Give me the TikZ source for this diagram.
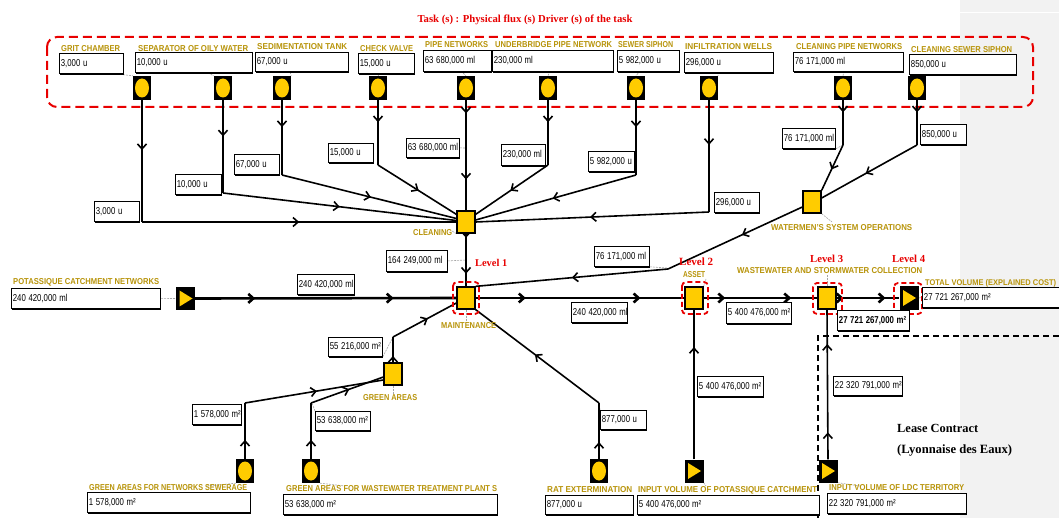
\documentclass[tikz,border=0pt]{standalone}
\usepackage{fontspec}
\setmainfont{Liberation Serif}
\setsansfont{Liberation Sans}
\usepackage{graphicx}
\usetikzlibrary{arrows.meta,decorations.markings,shadows,calc}
\definecolor{ycol}{RGB}{255,204,0}
\definecolor{gold}{RGB}{184,148,10}
\definecolor{tred}{RGB}{232,0,0}
\definecolor{bandgray}{RGB}{242,242,242}
\pgfdeclarelayer{bg}\pgfdeclarelayer{edges}\pgfsetlayers{bg,edges,main}
\tikzset{
 circicon/.style={fill=black, minimum width=18pt, minimum height=24pt, inner sep=0pt,
   path picture={\fill[ycol] (path picture bounding box.center) ellipse (7pt and 9.5pt);}},
 triicon/.style={fill=black, minimum width=19pt, minimum height=23pt, inner sep=0pt,
   path picture={\fill[ycol] ([shift={(-6pt,8pt)}]path picture bounding box.center) -- ([shift={(-6pt,-8pt)}]path picture bounding box.center) -- ([shift={(7pt,0pt)}]path picture bounding box.center) -- cycle;}},
 act/.style={fill=ycol, draw=black, line width=1.3pt, minimum width=18pt, minimum height=22pt, inner sep=0pt},
 vbox/.style={draw=black, line width=0.8pt, fill=white, inner sep=1.5pt, align=left, anchor=north west,
   font=\sffamily\fontsize{10}{11}\selectfont, general shadow={fill=black, shadow xshift=0.8pt, shadow yshift=-1.6pt}},
 glab/.style={inner sep=0pt, text=gold, font=\sffamily\bfseries, anchor=west},
 flow/.style={draw=black, line width=1.6pt},
 mainflow/.style={draw=black, line width=2.6pt},
 ma/.style={postaction={decorate}, decoration={markings, mark=at position #1 with {\arrow{Straight Barb[length=5pt,width=9pt]}}}},
 mb/.style 2 args={postaction={decorate}, decoration={markings, mark=at position #1 with {\arrow{Straight Barb[length=5pt,width=9pt]}}, mark=at position #2 with {\arrow{Straight Barb[length=5pt,width=9pt]}}}},
 lvl/.style={inner sep=0pt, text=tred, font=\bfseries, anchor=west},
 reddash/.style={draw=tred, line width=1.8pt, dash pattern=on 5pt off 3pt, rounded corners=4pt},
 leader/.style={draw=black!35, line width=0.6pt, dash pattern=on 2pt off 1pt},
}
\newcommand\vb[6]{\pgfmathsetmacro\vbw{#4-#2-3}\pgfmathsetmacro\vbh{#5-#3}%
  \node[vbox, text width=\vbw pt, minimum height=\vbh pt] (#1) at (#2,#3) {\scalebox{0.78}[1]{#6}};}
\newcommand\gl[5]{\pgfmathsetmacro\glw{#3-#2}%
  \node[glab] (#1) at (#2,#4) {\resizebox{\glw pt}{6pt}{#5}};}
\begin{document}
\begin{tikzpicture}[x=1pt,y=-1pt]
\useasboundingbox (0,0) rectangle (1059,518);
\begin{pgfonlayer}{bg}
\fill[white] (0,0) rectangle (1059,518);
\fill[bandgray] (960,0) rectangle (1059,518);
\draw[white, line width=1pt] (960,13) -- (1059,13);
\draw[tred, line width=2pt, dash pattern=on 9pt off 5pt, rounded corners=10pt] (47,37) rectangle (1033,107);
\draw[black, line width=1.5pt, dash pattern=on 6pt off 4pt] (1059,336) -- (818,336) -- (818,518);
\end{pgfonlayer}

% title
\node[inner sep=0pt, text=tred, font=\bfseries] (title) at (525,20) {\resizebox{215pt}{!}{Task (s) : Physical flux (s) Driver (s) of the task}};

% top labels
\gl{tGrit}{61}{120}{49}{GRIT CHAMBER}
\gl{tSep}{138}{248}{49}{SEPARATOR OF OILY WATER}
\gl{tSed}{257}{347}{47}{SEDIMENTATION TANK}
\gl{tChk}{360}{413}{49}{CHECK VALVE}
\gl{tPipe}{425}{488}{45}{PIPE NETWORKS}
\gl{tUnd}{495}{612}{45}{UNDERBRIDGE PIPE NETWORK}
\gl{tSew}{618}{673}{45}{SEWER SIPHON}
\gl{tInf}{685}{772}{47}{INFILTRATION WELLS}
\gl{tClp}{796}{902}{47}{CLEANING PIPE NETWORKS}
\gl{tCls}{911}{1012}{50}{CLEANING SEWER SIPHON}

% top value boxes
\vb{bGrit}{59}{53}{123}{73}{3,000 u}
\vb{bSep}{135}{52}{252}{72}{10,000 u}
\vb{bSed}{255}{52}{348}{71}{67,000 u}
\vb{bChk}{358}{53}{414}{73}{15,000 u}
\vb{bPipe}{423}{50}{491}{71}{63 680,000 ml}
\vb{bUnd}{492}{50}{613}{71}{230,000 ml}
\vb{bSew}{617}{50}{679}{71}{5 982,000 u}
\vb{bInf}{684}{52}{773}{72}{296,000 u}
\vb{bClp}{793}{52}{903}{71}{76 171,000 ml}
\vb{bCls}{909}{54}{1016}{74}{850,000 u}

% top icons
\node[circicon] (iGrit) at (142,88) {};
\node[circicon] (iSep) at (223,88) {};
\node[circicon] (iSed) at (282,88) {};
\node[circicon] (iChk) at (378,88) {};
\node[circicon] (iPipe) at (466,88) {};
\node[circicon] (iUnd) at (548,88) {};
\node[circicon] (iSew) at (636,88) {};
\node[circicon] (iInf) at (709,88) {};
\node[circicon] (iClp) at (843,88) {};
\node[circicon] (iCls) at (917,88) {};

% activities
\node[act] (cl) at (466,222) {};
\node[act] (mt) at (466,298) {};
\node[act] (ga) at (393,374) {};
\node[act] (as) at (694,298) {};
\node[act] (ww) at (827,298) {};
\node[act] (wm) at (812,202) {};
\draw[reddash] (453,282) rectangle (479,314);
\draw[reddash] (682,282) rectangle (708,314);
\draw[reddash] (813,283) rectangle (842,314);
\draw[reddash] (894,283) rectangle (922,314);

\gl{lCl}{413}{452}{233}{CLEANING}
\gl{lMt}{441}{496}{326}{MAINTENANCE}
\gl{lGa}{363}{417}{398}{GREEN AREAS}
\gl{lAs}{683}{705}{275}{ASSET}
\gl{lWw}{737}{922}{271}{WASTEWATER AND STORMWATER COLLECTION}
\gl{lWm}{771}{912}{228}{WATERMEN'S SYSTEM OPERATIONS}

% levels
\node[lvl] (lv1) at (475,263) {\resizebox{32pt}{!}{Level 1}};
\node[lvl] (lv2) at (679,262) {\resizebox{34pt}{!}{Level 2}};
\node[lvl] (lv3) at (810,259) {\resizebox{33pt}{!}{Level 3}};
\node[lvl] (lv4) at (892,259) {\resizebox{33pt}{!}{Level 4}};

% source and sink
\gl{lSrc}{13}{159}{282}{POTASSIQUE CATCHMENT NETWORKS}
\vb{bSrc}{11}{288}{160}{308}{240 420,000 ml}
\node[triicon] (src) at (185.5,298.5) {};
\node[triicon] (tot) at (909,298) {};
\gl{lTot}{925}{1056}{283}{TOTAL VOLUME (EXPLAINED COST)}
\vb{bTot}{922}{287}{1075}{307}{27 721 267,000 m²}

% bottom icons, labels, boxes
\node[circicon] (iGan) at (245,471) {};
\node[circicon] (iGaw) at (311,471) {};
\node[circicon] (iRat) at (599,471) {};
\node[triicon] (iIp) at (694,471) {};
\node[triicon] (iIl) at (828,471) {};
\gl{lGan}{89}{247}{488}{GREEN AREAS FOR NETWORKS SEWERAGE}
\gl{lGaw}{286}{497}{489}{GREEN AREAS FOR WASTEWATER TREATMENT PLANT S}
\gl{lRat}{547}{632}{490}{RAT EXTERMINATION}
\gl{lIp}{638}{817}{490}{INPUT VOLUME OF POTASSIQUE CATCHMENT}
\gl{lIl}{829}{964}{488}{INPUT VOLUME OF LDC TERRITORY}
\vb{bGan}{87}{492}{250}{512}{1 578,000 m²}
\vb{bGaw}{283}{494}{497}{514}{53 638,000 m²}
\vb{bRat}{545}{495}{633}{514}{877,000 u}
\vb{bIp}{637}{495}{819}{514}{5 400 476,000 m²}
\vb{bIl}{827}{493}{966}{513}{22 320 791,000 m²}

% flow value boxes
\vb{fGrit}{94}{201}{139}{221}{3,000 u}
\vb{fSep}{175}{174}{221}{194}{10,000 u}
\vb{fSed}{234}{154}{279}{174}{67,000 u}
\vb{fChk}{328}{143}{373}{162}{15,000 u}
\vb{fPipe}{406}{138}{459}{157}{63 680,000 ml}
\vb{fUnd}{501}{144}{545}{165}{230,000 ml}
\vb{fSew}{588}{151}{634}{171}{5 982,000 u}
\vb{fInf}{714}{192}{759}{212}{296,000 u}
\vb{fClp}{782}{128}{835}{148}{76 171,000 ml}
\vb{fCls}{920}{124}{966}{144}{850,000 u}
\vb{fCl}{386}{250}{447}{271}{164 249,000 ml}
\vb{fWm}{594}{246}{649}{266}{76 171,000 ml}
\vb{fSrc}{297}{274}{354}{294}{240 420,000 ml}
\vb{fMt}{571}{302}{627}{322}{240 420,000 ml}
\vb{fAs}{726}{302}{791}{323}{5 400 476,000 m²}
\vb{fWw}{837}{310}{909}{330}{\bfseries 27 721 267,000 m²}
\vb{fGa}{328}{337}{382}{356}{55 216,000 m²}
\vb{fGan}{192}{404}{241}{424}{1 578,000 m²}
\vb{fGaw}{315}{411}{370}{430}{53 638,000 m²}
\vb{fRat}{600}{410}{646}{429}{877,000 u}
\vb{fIp}{697}{376}{763}{396}{5 400 476,000 m²}
\vb{fIl}{833}{376}{902}{395}{22 320 791,000 m²}

% lease contract
\node[inner sep=0pt, anchor=west, font=\bfseries] (lease1) at (897,428) {\resizebox{81pt}{!}{Lease Contract}};
\node[inner sep=0pt, anchor=west, font=\bfseries] (lease2) at (897,450) {\resizebox{115pt}{!}{(Lyonnaise des Eaux)}};

\begin{pgfonlayer}{edges}
% leaders
\draw[leader] (117,74) -- (iGrit.north west);
\draw[leader] (208,73) -- (iSep.north west);
\draw[leader] (290,72) -- (iSed.north east);
\draw[leader] (381,73) -- (iChk.north);
\draw[leader] (461,71) -- (iPipe.north);
\draw[leader] (550,71) -- (iUnd.north);
\draw[leader] (640,71) -- (iSew.north);
\draw[leader] (717,72) -- (iInf.north east);
\draw[leader] (844,71) -- (iClp.north);
\draw[leader] (938,74) -- (iCls.north east);
\draw[leader] (bSrc.east) -- (src.west);
\draw[leader] (tot.east) -- (bTot.west);
\draw[leader] (fCl.east) -- (466,260);
\draw[leader] (fPipe.east) -- (466,148);
\draw[leader] (634,171) -- (636,175);
\draw[leader] (fClp.south east) -- (843,145);
\draw[leader] (fWm.south east) -- (667,268);
\draw[leader] (wm.south east) -- (832,222);
\draw[leader] (cl.south west) -- (452,231);
\draw[leader] (mt.south) -- (466,322);
\draw[leader] (ga.south) -- (393,394);
\draw[leader] (as.north east) -- (706,279);
\draw[leader] (ww.north) -- (827,275);
\draw[leader] (iGan.south west) -- (207,486);
\draw[leader] (iGaw.south east) -- (345,486);
\draw[leader] (iIl.south east) -- (860,486);
\draw[leader] (iIp.south east) -- (706,486);
\draw[leader] (fGa.south east) -- (393,337);
\draw[leader] (fGaw.north west) -- (312,403);
\draw[leader] (fRat.north west) -- (599,404);

% flows into CLEANING
\coordinate (kGrit) at (142,222);
\draw[flow,ma=0.41] (iGrit.south) -- (kGrit);
\draw[flow,ma=0.5] (kGrit) -- (cl.west);
\coordinate (kSep) at (223,193);
\draw[flow,ma=0.39] (iSep.south) -- (kSep);
\draw[flow,ma=0.5] (kSep) -- ([yshift=1.5pt]cl.west);
\coordinate (kSed) at (282,175);
\draw[flow,ma=0.36] (iSed.south) -- (kSed);
\draw[flow,ma=0.51] (kSed) -- ([yshift=3.5pt]cl.west);
\coordinate (kChk) at (378,165);
\draw[flow,ma=0.34] (iChk.south) -- (kChk);
\draw[flow,ma=0.52] (kChk) -- ([yshift=-4pt]cl.north west);
\draw[flow,mb={0.12}{0.72}] (iPipe.south) -- (cl.north);
\coordinate (kUnd) at (548,165);
\draw[flow,ma=0.34] (iUnd.south) -- (kUnd);
\draw[flow,ma=0.52] (kUnd) -- ([yshift=-4pt]cl.north east);
\coordinate (kSew) at (636,175);
\draw[flow,ma=0.36] (iSew.south) -- (kSew);
\draw[flow,ma=0.52] (kSew) -- ([yshift=2pt]cl.east);
\coordinate (kInf) at (709,212);
\draw[flow,ma=0.4] (iInf.south) -- (kInf);
\draw[flow,ma=0.51] (kInf) -- (cl.east);
% cleaning to maintenance
\draw[flow,mb={0.08}{0.76}] (cl.south) -- (mt.north);
% watermen
\coordinate (kClp) at (843,145);
\draw[flow,ma=0.27] (iClp.south) -- (kClp);
\draw[flow,ma=0.54] (kClp) -- (wm.north east);
\coordinate (kCls) at (917,145);
\draw[flow,ma=0.27] (iCls.south) -- (kCls);
\draw[flow,ma=0.54] (kCls) -- ([yshift=4pt]wm.east);
\coordinate (kWm) at (668,269);
\draw[flow,ma=0.45] ([yshift=-5pt]wm.west) -- (kWm);
\draw[flow,ma=0.5] (kWm) -- (mt.north east);
% main line
\draw[mainflow,mb={0.23}{0.76}] (src.east) -- (mt.west);
\draw[mainflow,mb={0.24}{0.79}] (mt.east) -- (as.west);
\draw[mainflow,mb={0.19}{0.77}] (as.east) -- (ww.west);
\draw[mainflow,mb={0.11}{0.78}] (ww.east) -- (tot.west);
% green areas
\coordinate (kGan) at (245,403);
\draw[flow,ma=0.34] (iGan.north) -- (kGan);
\draw[flow,ma=0.52] (kGan) -- ([yshift=-6pt]ga.west);
\coordinate (kGaw) at (311,403);
\draw[flow,ma=0.34] (iGaw.north) -- (kGaw);
\draw[flow,ma=0.53] (kGaw) -- ([yshift=-3pt]ga.west);
\coordinate (kGa) at (393,337);
\draw[flow,ma=0.25] (ga.north) -- (kGa);
\draw[flow,ma=0.55] (kGa) -- ([yshift=-5pt]mt.west);
% rat
\coordinate (kRat) at (599,403);
\draw[flow,ma=0.3] (iRat.north) -- (kRat);
\draw[flow,ma=0.52] (kRat) -- (mt.south east);
% inputs
\draw[flow,ma=0.75] (iIp.north) -- (as.south);
\draw[flow,mb={0.18}{0.77}] (iIl.north) -- (ww.south);
\end{pgfonlayer}
\end{tikzpicture}
\end{document}
